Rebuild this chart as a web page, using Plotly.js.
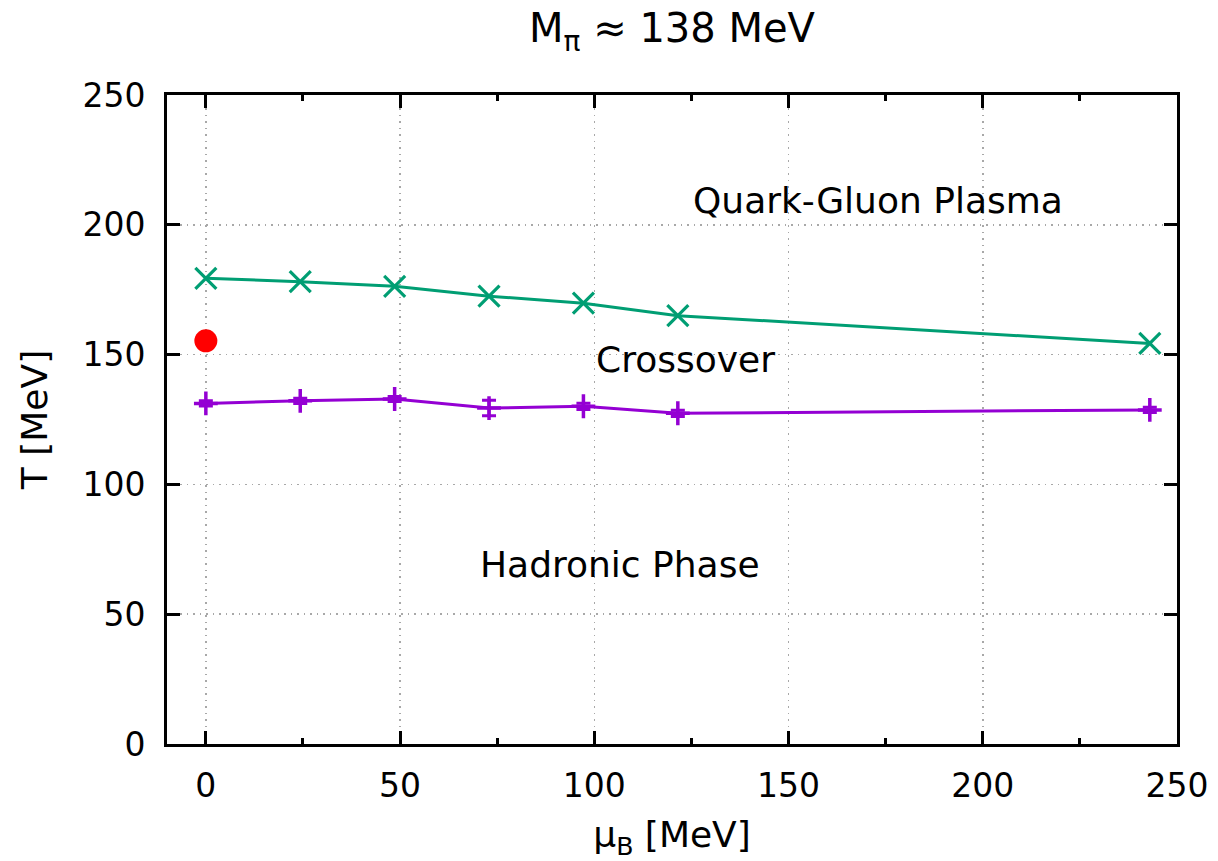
<!DOCTYPE html>
<html>
<head>
<meta charset="utf-8">
<script src="https://cdn.plot.ly/plotly-3.0.1.min.js"></script>
<style>
  html, body { margin: 0; padding: 0; background: #fff; }
  #chart { width: 1218px; height: 861px; }
</style>
</head>
<body>
<div id="chart"></div>
<script>
// Baryon chemical potential values (MeV)
const muB = [0, 24.3, 48.6, 72.9, 97.2, 121.5, 243];
// Upper boundary of the crossover region (MeV)
const tUpper = [179.4, 178.1, 176.3, 172.5, 169.8, 165.0, 154.3];
// Lower boundary of the crossover region (MeV) and its uncertainties
const tLower = [131.2, 132.2, 132.9, 129.4, 130.1, 127.4, 128.7];
const tLowerErr = [1.0, 1.0, 1.0, 3.0, 1.2, 1.2, 1.0];
// Reference pseudo-critical temperature at mu_B = 0
const refMu = [0];
const refT = [155.3];

// Region labels
const regionNames = ['Quark-Gluon Plasma', 'Crossover', 'Hadronic Phase'];
const regionMu = [125, 100, 70];
const regionT = [209.5, 148, 69.3];

const green = '#009e73';
const purple = '#9400d3';
const FONT = 'DejaVu Sans, sans-serif';

const traces = [
  {
    x: muB, y: tUpper, type: 'scatter', mode: 'lines+markers',
    line: {color: green, width: 3},
    marker: {symbol: 'x-thin-open', size: 21, line: {color: green, width: 3.2}},
    showlegend: false, hoverinfo: 'x+y'
  },
  {
    x: muB, y: tLower, type: 'scatter', mode: 'lines+markers',
    line: {color: purple, width: 3},
    marker: {symbol: 'cross-thin-open', size: 17, line: {color: purple, width: 3.5}},
    error_y: {type: 'data', array: tLowerErr, visible: true, color: purple, thickness: 3, width: 7},
    showlegend: false, hoverinfo: 'x+y'
  },
  {
    x: refMu, y: refT, type: 'scatter', mode: 'markers',
    marker: {symbol: 'circle', size: 23, color: '#ff0000'},
    showlegend: false, hoverinfo: 'x+y'
  }
];

const annotations = regionNames.map((t, i) => ({
  x: regionMu[i], y: regionT[i], xref: 'x', yref: 'y',
  text: t, showarrow: false, xanchor: 'left', yanchor: 'middle',
  font: {family: FONT, size: 36, color: '#000'}
}));

const axisCommon = {
  showline: true, linecolor: '#000', linewidth: 3, mirror: 'ticks',
  ticks: 'inside', ticklen: 13, tickwidth: 3, tickcolor: '#000',
  showgrid: true, gridcolor: '#a8a8a8', gridwidth: 1.5, griddash: '1.5px,5px',
  zeroline: false,
  tickfont: {family: FONT, size: 33, color: '#000'}
};

const layout = {
  width: 1218, height: 861,
  margin: {l: 167, r: 41, t: 95, b: 117},
  paper_bgcolor: '#fff', plot_bgcolor: '#fff',
  title: {
    text: 'M<sub>π</sub> ≈ 138 MeV',
    font: {family: FONT, size: 40, color: '#000'},
    xref: 'paper', x: 0.5, xanchor: 'center', y: 0.967, yanchor: 'middle'
  },
  xaxis: Object.assign({}, axisCommon, {
    range: [-10, 250], tickmode: 'linear', tick0: 0, dtick: 50,
    minor: {ticks: 'inside', ticklen: 6, tickwidth: 3, tickcolor: '#000', dtick: 25, tick0: 0, showgrid: false},
    ticklabelstandoff: 10,
    title: {text: 'μ<sub>B</sub> [MeV]', font: {family: FONT, size: 36, color: '#000'}, standoff: 21}
  }),
  yaxis: Object.assign({}, axisCommon, {
    range: [0, 250], tickmode: 'linear', tick0: 0, dtick: 50,
    ticklabelstandoff: 12,
    title: {text: 'T [MeV]', font: {family: FONT, size: 36, color: '#000'}, standoff: 24}
  }),
  annotations: annotations
};

Plotly.newPlot('chart', traces, layout, {displayModeBar: false, staticPlot: true});
</script>
</body>
</html>
